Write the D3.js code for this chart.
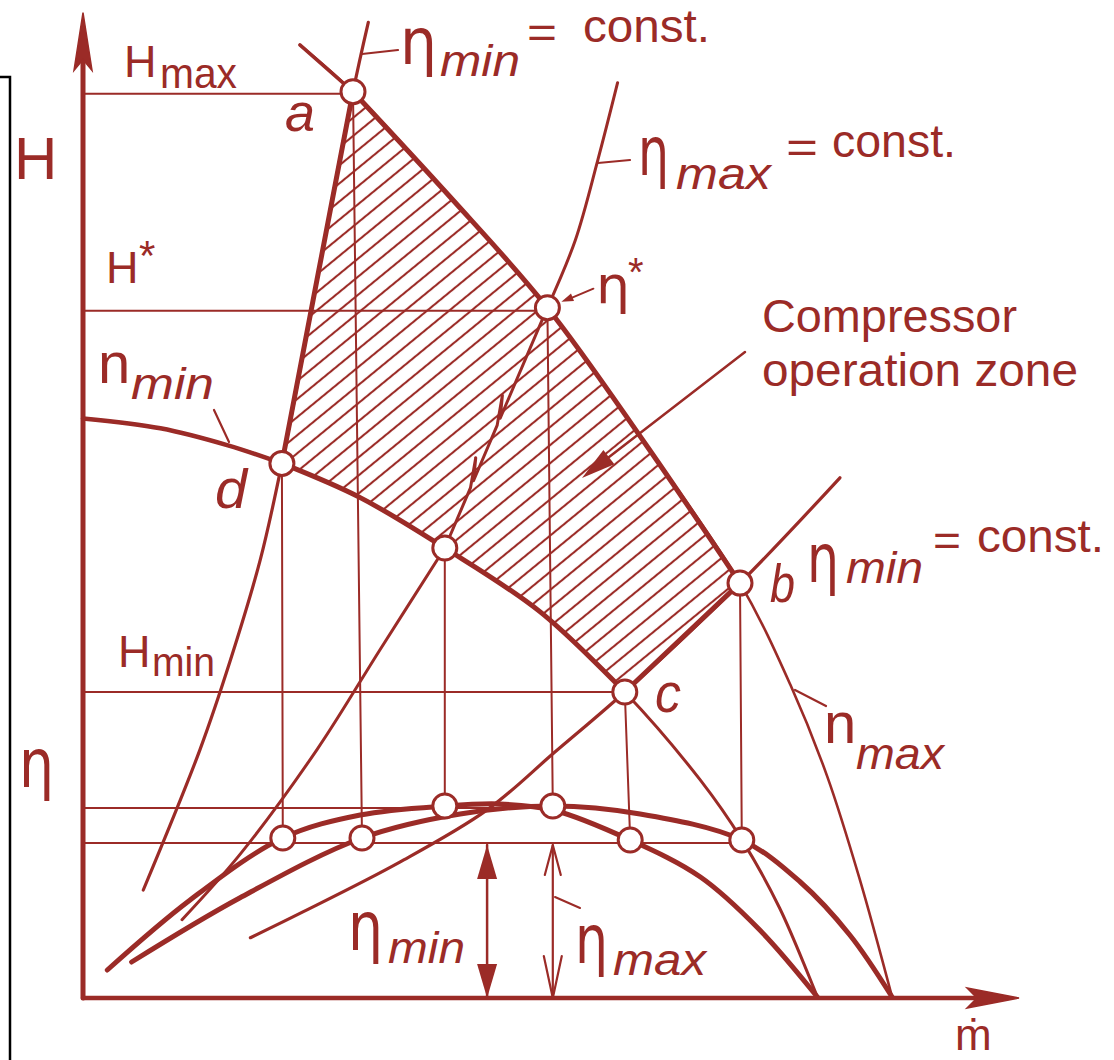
<!DOCTYPE html>
<html><head><meta charset="utf-8">
<script src="https://cdn.jsdelivr.net/npm/d3@7"></script>
<style>
html,body{margin:0;padding:0;background:#fff;}
svg{display:block;}
</style></head><body>
<script>
// Compressor map: head H and efficiency η against mass flow ṁ (relative units)
const flowDomain = [0, 10];
const headDomain = [0, 10];
const etaDomain = [0, 1];

// Speed lines H(ṁ) for n_min and n_max
const nMinFlow = [0, 0.86, 1.61, 2.21, 3.08, 4.02, 5.08, 6.02, 6.86, 7.32, 7.74, 8.16];
const nMinHead = [6.44, 6.33, 6.14, 5.94, 5.56, 5.00, 4.29, 3.40, 2.42, 1.76, 1.00, 0.01];
const nMaxFlow = [2.41, 3.00, 4.08, 5.16, 6.24, 7.30, 7.86, 8.27, 8.63, 8.99];
const nMaxHead = [10.59, 10.07, 8.90, 7.67, 6.17, 4.61, 3.48, 2.46, 1.32, 0.01];

// Lines of constant efficiency in the H–ṁ plane
const etaMinLeftFlow = [3.17, 3.00, 2.60, 2.21, 1.97, 1.64, 1.30, 0.67];
const etaMinLeftHead = [10.84, 10.07, 7.98, 5.94, 4.87, 3.76, 2.76, 1.20];
const etaMinRightFlow = [8.41, 7.30, 6.02, 5.24, 4.49, 3.52, 2.41, 1.86];
const etaMinRightHead = [5.78, 4.61, 3.40, 2.73, 2.09, 1.51, 0.94, 0.67];
const etaMaxFlow = [5.94, 5.72, 5.47, 5.16, 4.02, 3.30, 2.60, 1.74, 1.10];
const etaMaxHead = [10.17, 9.31, 8.42, 7.67, 5.00, 3.87, 2.76, 1.59, 0.87];

// Efficiency curves η(ṁ) for n_min and n_max
const etaNminFlow = [0.27, 1.19, 2.22, 3.08, 4.02, 4.63, 5.22, 6.08, 6.86, 7.52, 8.16];
const etaNminValue = [0.112, 0.392, 0.64, 0.732, 0.768, 0.776, 0.752, 0.632, 0.484, 0.272, 0.004];
const etaNmaxFlow = [0.54, 1.74, 3.10, 4.19, 5.22, 6.19, 7.32, 7.97, 8.52, 8.99];
const etaNmaxValue = [0.144, 0.40, 0.64, 0.736, 0.768, 0.736, 0.632, 0.464, 0.252, 0.004];

// Marked operating points: H–ṁ position and the matching point on the η curves
const pointIds = ["d", "a", "n", "eta*", "c", "b"];
const pointFlow = [2.21, 3.00, 4.02, 5.16, 6.02, 7.30];
const pointHead = [5.94, 10.07, 5.00, 7.67, 3.40, 4.61];
const pointEtaFlow = [2.22, 3.10, 4.02, 5.22, 6.08, 7.32];
const pointEta = [0.64, 0.64, 0.768, 0.768, 0.632, 0.632];

// Efficiency reference levels: η_max, η_min
const etaLevelValues = [0.76, 0.62];

const W = 1114, HGT = 1060;
const C = "#9b2b27";
const SANS = "'Liberation Sans', Arial, 'DejaVu Sans', sans-serif";
const GREEK = "'DejaVu Sans', 'Liberation Sans', sans-serif";

const xM = d3.scaleLinear().domain(flowDomain).range([83, 983]);
const yH = d3.scaleLinear().domain(headDomain).range([998, 98]);
const yE = d3.scaleLinear().domain(etaDomain).range([998, 748]);

const zip = (a, b) => a.map((v, i) => [v, b[i]]);
const P = (id) => {
  const i = pointIds.indexOf(id);
  return { x: xM(pointFlow[i]), y: yH(pointHead[i]), ex: xM(pointEtaFlow[i]), ey: yE(pointEta[i]) };
};

const svg = d3.select("body").append("svg").attr("width", W).attr("height", HGT);

// hatch pattern for the operating zone
const defs = svg.append("defs");
const pat = defs.append("pattern").attr("id", "hatch")
  .attr("patternUnits", "userSpaceOnUse").attr("width", 14).attr("height", 14)
  .attr("patternTransform", "rotate(-39.35)");
pat.append("line").attr("x1", -2).attr("x2", 16).attr("y1", 7).attr("y2", 7)
  .attr("stroke", C).attr("stroke-width", 2.1);

const curveH = d3.line().x(d => xM(d[0])).y(d => yH(d[1])).curve(d3.curveCatmullRom.alpha(0.5));
const curveE = d3.line().x(d => xM(d[0])).y(d => yE(d[1])).curve(d3.curveCatmullRom.alpha(0.5));

const nMin = zip(nMinFlow, nMinHead);
const nMax = zip(nMaxFlow, nMaxHead);
const etaMinL = zip(etaMinLeftFlow, etaMinLeftHead);
const etaMinR = zip(etaMinRightFlow, etaMinRightHead);
const etaMaxL = zip(etaMaxFlow, etaMaxHead);

// operating zone outline a → η* → b → c → d → a
const seg1 = curveH(nMax.slice(1, 6));
const seg2 = curveH(etaMinR.slice(1, 3));
const seg3 = curveH(nMin.slice(3, 8).reverse());
const seg4 = curveH(etaMinL.slice(1, 4).reverse());
const zonePath = seg1 + seg2.replace(/^M/, "L") + seg3.replace(/^M/, "L") + seg4.replace(/^M/, "L") + "Z";

const g = svg.append("g");
g.append("path").attr("d", zonePath).attr("fill", "url(#hatch)").attr("stroke", "none");

function path(d, w, extra) {
  const p = g.append("path").attr("d", d).attr("fill", "none").attr("stroke", C)
    .attr("stroke-width", w).attr("stroke-linecap", "round").attr("stroke-linejoin", "round");
  if (extra) extra(p);
  return p;
}
function seg(x1, y1, x2, y2, w) { return path(`M${x1},${y1}L${x2},${y2}`, w); }

// frame at the left edge
svg.append("path").attr("d", "M0,77H10V1060").attr("fill", "none").attr("stroke", "#000").attr("stroke-width", 2.5);

// reference levels
const pa = P("a"), ps = P("eta*"), pc = P("c"), pb = P("b"), pd = P("d"), pn = P("n");
seg(xM(0), pa.y + 2, pa.x - 12, pa.y + 2, 2);
seg(xM(0), ps.y + 3, ps.x - 12, ps.y + 3, 2);
seg(xM(0), pc.y, pc.x - 12, pc.y, 2);
seg(xM(0), yE(etaLevelValues[0]), ps.ex, yE(etaLevelValues[0]), 2);
seg(xM(0), yE(etaLevelValues[1]), pb.ex, yE(etaLevelValues[1]), 2);

// drop lines from the H–ṁ points to the η curves
pointIds.forEach(id => { const p = P(id); seg(p.x, p.y, p.ex, p.ey, 2); });

// speed lines
path(curveH(nMin), 3);
path(curveH(nMin.slice(0, 4)), 4.5);
path(curveH(nMax), 2.6);
path(curveH(nMax.slice(0, 2)), 3.5);

// constant-efficiency lines
path(curveH(etaMinL), 3.2);
path(curveH(etaMinR), 3.2);
path(curveH(etaMaxL.slice(0, 4)), 3);
path(curveH(etaMaxL.slice(4)), 3);
// η_max line crossing the zone, drawn with break marks
(function () {
  const x0 = ps.x, y0 = ps.y, x1 = pn.x, y1 = pn.y;
  const dx = x1 - x0, dy = y1 - y0, L = Math.hypot(dx, dy);
  const ux = dx / L, uy = dy / L, px = -uy, py = ux;
  const at = t => [x0 + dx * t, y0 + dy * t];
  const pts = [[x0, y0]];
  [0.46, 0.72].forEach(t => {
    const q = at(t);
    pts.push(q);
    pts.push([q[0] - ux * 22 + px * 7, q[1] - uy * 22 + py * 7]);
    pts.push(at(t + 0.03));
  });
  pts.push([x1, y1]);
  path(d3.line()(pts), 3);
})();

// zone boundary
path(zonePath, 5);

// efficiency curves
path(curveE(zip(etaNminFlow, etaNminValue)), 5);
path(curveE(zip(etaNmaxFlow, etaNmaxValue)), 5);

// axes
const ax = xM(0), ay = yH(0);
const yTip = yH(10.95), xTip = xM(10.4);
seg(ax, ay, ax, yTip + 40, 5);
g.append("path").attr("d", `M${ax},${yTip}L${ax - 9},${yTip + 58}L${ax},${yTip + 47}L${ax + 9},${yTip + 58}Z`).attr("fill", C).attr("stroke", C).attr("stroke-width", 1.5);
seg(ax, ay, xTip - 30, ay, 4.5);
g.append("path").attr("d", `M${xTip},${ay}L${xTip - 52},${ay - 10}L${xTip - 42},${ay}L${xTip - 52},${ay + 10}Z`).attr("fill", C).attr("stroke", C).attr("stroke-width", 1.5);

// arrowhead helper
function head(tx, ty, fx, fy, len, hw, filled) {
  const L = Math.hypot(tx - fx, ty - fy), ux = (tx - fx) / L, uy = (ty - fy) / L;
  const bx = tx - ux * len, by = ty - uy * len;
  const l = [bx - uy * hw, by + ux * hw], r = [bx + uy * hw, by - ux * hw];
  if (filled) {
    g.append("path").attr("d", `M${tx},${ty}L${l[0]},${l[1]}L${r[0]},${r[1]}Z`).attr("fill", C);
  } else {
    path(`M${l[0]},${l[1]}L${tx},${ty}L${r[0]},${r[1]}`, 2.2);
  }
}

// η_min dimension arrow
const xEmin = xM(4.49), yEmin = yE(etaLevelValues[1]) + 2;
seg(xEmin, yEmin, xEmin, ay, 2.5);
head(xEmin, yEmin, xEmin, ay, 34, 10, true);
head(xEmin, ay, xEmin, yEmin, 34, 10, true);
// η_max dimension arrow
const xEmax = ps.ex, yEmaxTip = yE(0.612);
seg(xEmax, yEmaxTip, xEmax, ay, 2.2);
head(xEmax, yEmaxTip, xEmax, ay, 30, 8, false);
head(xEmax, ay, xEmax, yEmaxTip, 42, 9, false);

// operating-zone pointer
seg(745, 352, 600, 464, 2.5);
head(582, 478, 745, 352, 34, 9, true);
// η* pointer
seg(ps.x + 46, ps.y - 19, ps.x + 20, ps.y - 8, 2);
head(ps.x + 14, ps.y - 6, ps.x + 46, ps.y - 19, 12, 4, true);

// label leaders
seg(362, 54, 398, 50, 2.2);
seg(598, 163, 630, 160, 2.2);
seg(214, 410, 229, 442, 2.2);
seg(795, 690, 826, 706, 2.2);
seg(555, 897, 580, 908, 2);

// point markers
pointIds.forEach(id => {
  const p = P(id);
  g.append("circle").attr("cx", p.x).attr("cy", p.y).attr("r", 12).attr("fill", "#fff").attr("stroke", C).attr("stroke-width", 3);
  g.append("circle").attr("cx", p.ex).attr("cy", p.ey).attr("r", 12).attr("fill", "#fff").attr("stroke", C).attr("stroke-width", 3);
});

// text
const T = svg.append("g").attr("fill", C);
function txt(s, x, y, size, o = {}) {
  const t = T.append("text").attr("x", x).attr("y", y).attr("font-size", size)
    .attr("font-family", o.fam || SANS).text(s);
  if (o.it) t.attr("font-style", "italic");
  if (o.len) t.attr("textLength", o.len).attr("lengthAdjust", "spacingAndGlyphs");
  return t;
}
const eta = (x, y, len, size) => txt("η", x, y, size || 68, { fam: GREEK, len: len });
const sub = (s, x, y, len) => txt(s, x, y, 44, { it: true, len: len });

txt("H", 14, 179, 60);
txt("H", 124, 77, 45); txt("max", 160, 88, 42, { len: 77 });
txt("H", 106, 283, 45); txt("*", 139, 270, 42);
txt("H", 118, 667, 45); txt("min", 152, 676, 40, { len: 63 });
txt("n", 98, 383, 58); sub("min", 131, 399, 83);
txt("n", 824, 743, 58); sub("max", 856, 769, 88);

eta(400, 64, 37, 64); sub("min", 440, 76, 80); txt("=", 527, 48, 44, { len: 30 }); txt("const.", 583, 42, 46, { len: 127 });
eta(638, 175, 31); sub("max", 676, 189, 95); txt("=", 786, 163, 44, { len: 32 }); txt("const.", 832, 157, 46, { len: 124 });
eta(807, 582, 32); sub("min", 846, 583, 77); txt("=", 933, 556, 44, { len: 28 }); txt("const.", 977, 552, 46, { len: 127 });
eta(19, 787, 35);
eta(596, 303, 34, 52); txt("*", 628, 286, 40);

txt("a", 285, 131, 54, { it: true, len: 30 });
txt("d", 215, 508, 56, { it: true, len: 32 });
txt("b", 770, 602, 54, { it: true, len: 25 });
txt("c", 655, 712, 56, { it: true, len: 26 });

txt("Compressor", 762, 332, 46, { len: 255 });
txt("operation zone", 762, 386, 46, { len: 316 });

eta(348, 950, 35); sub("min", 388, 963, 77);
eta(575, 963, 33); sub("max", 613, 975, 93);

txt("ṁ", 955, 1050, 44);
</script>
</body></html>
